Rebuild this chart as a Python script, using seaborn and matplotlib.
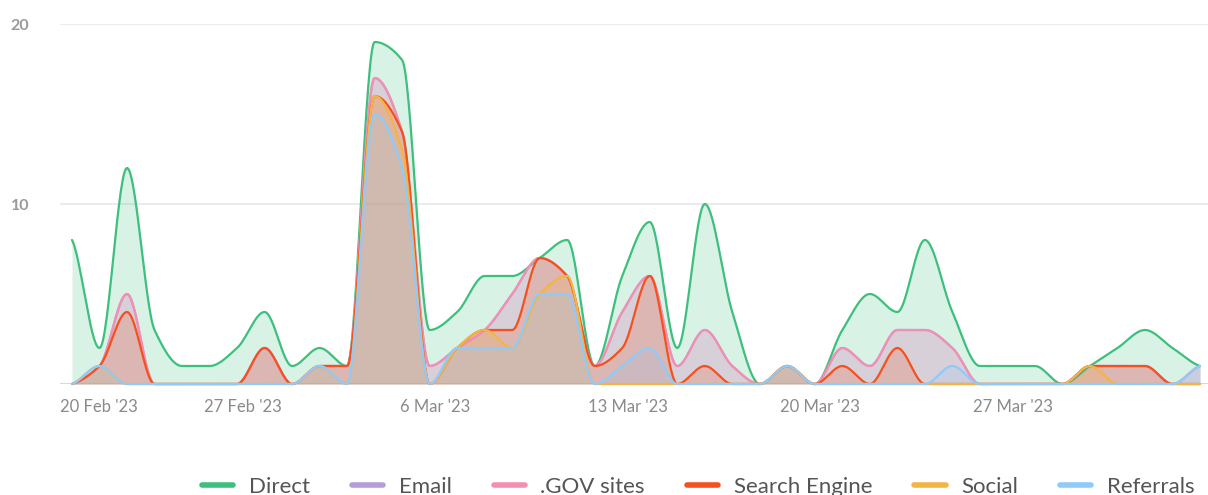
import numpy as np
import pandas as pd
import matplotlib
matplotlib.use('Agg')
import matplotlib.pyplot as plt
from matplotlib.lines import Line2D
import seaborn as sns

# Valores diários (índice 0 = primeiro dia do gráfico)
direct = [8, 2, 12, 3, 1, 1, 2, 4, 1, 2, 1, 19, 18, 3, 4, 6, 6, 7, 8, 1, 6,
          9, 2, 10, 4, 0, 1, 0, 3, 5, 4, 8, 4, 1, 1, 1, 0, 1, 2, 3, 2, 1]
email = [0, 1, 5, 0, 0, 0, 0, 2, 0, 1, 1, 17, 14, 1, 2, 3, 5, 7, 6, 1, 4,
         6, 1, 3, 1, 0, 1, 0, 2, 1, 3, 3, 2, 0, 0, 0, 0, 1, 1, 1, 0, 1]
gov_sites = [0, 1, 5, 0, 0, 0, 0, 2, 0, 1, 1, 17, 14, 1, 2, 3, 5, 7, 6, 1, 4,
             6, 1, 3, 1, 0, 1, 0, 2, 1, 3, 3, 2, 0, 0, 0, 0, 1, 1, 1, 0, 1]
search_engine = [0, 1, 4, 0, 0, 0, 0, 2, 0, 1, 1, 16, 14, 0, 2, 3, 3, 7, 6, 1, 2,
                 6, 0, 1, 0, 0, 1, 0, 1, 0, 2, 0, 0, 0, 0, 0, 0, 1, 1, 1, 0, 0]
social = [0, 1, 0, 0, 0, 0, 0, 0, 0, 1, 0, 16, 13, 0, 2, 3, 2, 5, 6, 0, 0,
          0, 0, 0, 0, 0, 1, 0, 0, 0, 0, 0, 0, 0, 0, 0, 0, 1, 0, 0, 0, 0]
referrals = [0, 1, 0, 0, 0, 0, 0, 0, 0, 1, 0, 15, 12, 0, 2, 2, 2, 5, 5, 0, 1,
             2, 0, 0, 0, 0, 1, 0, 0, 0, 0, 0, 1, 0, 0, 0, 0, 0, 0, 0, 0, 1]

series_names = ['Direct', 'Email', '.GOV sites', 'Search Engine', 'Social', 'Referrals']
series_values = [direct, email, gov_sites, search_engine, social, referrals]
series_colors = ['#3dbf7d', '#b39ddb', '#f48fb1', '#f4511e', '#f2b544', '#90caf9']

tick_labels = ["20 Feb '23", "27 Feb '23", "6 Mar '23", "13 Mar '23", "20 Mar '23", "27 Mar '23"]


# Interpolação monotônica (pchip) só para suavizar o desenho das curvas
def smooth_curve(y, n=30):
    y = np.asarray(y, dtype=float)
    delta = np.diff(y)
    d = np.zeros(len(y))
    for k in range(1, len(y) - 1):
        if delta[k - 1] * delta[k] > 0:
            d[k] = 2.0 / (1.0 / delta[k - 1] + 1.0 / delta[k])
    d[0] = delta[0] * 0.5
    d[-1] = delta[-1] * 0.5
    xs = np.linspace(0, len(y) - 1, (len(y) - 1) * n + 1)
    idx = np.minimum(xs.astype(int), len(y) - 2)
    t = xs - idx
    h00 = 2 * t**3 - 3 * t**2 + 1
    h10 = t**3 - 2 * t**2 + t
    h01 = -2 * t**3 + 3 * t**2
    h11 = t**3 - t**2
    ys = h00 * y[idx] + h10 * d[idx] + h01 * y[idx + 1] + h11 * d[idx + 1]
    return xs, np.clip(ys, 0, None)


sns.set_theme(style='white')
plt.rcParams['font.family'] = ['Lato', 'DejaVu Sans']

W, H = 1208, 495
fig = plt.figure(figsize=(W / 100, H / 100), dpi=100)
ax = fig.add_axes([60 / W, 111 / H, 1148 / W, 360 / H])

for name, vals, col in zip(series_names, series_values, series_colors):
    xs, ys = smooth_curve(vals)
    df = pd.DataFrame({'x': xs, 'y': ys})
    ax.fill_between(xs, 0, ys, color=col, alpha=0.2, lw=0)
    sns.lineplot(data=df, x='x', y='y', color=col, lw=1.6, ax=ax,
                 estimator=None, sort=False)
    ax.lines[-1].set_clip_on(False)

ax.set_xlim(-0.436, 41.29)
ax.set_ylim(0, 20)
ax.set_xlabel('')
ax.set_ylabel('')

ax.set_yticks([10, 20])
ax.set_yticklabels(['10', '20'])
ax.yaxis.grid(True, color='#ebebeb', lw=1.5)
ax.xaxis.grid(False)
ax.set_axisbelow(True)
for s in ax.spines.values():
    s.set_visible(False)
ax.axhline(0, color='#c9d6e3', lw=2, zorder=0.5)

tick_pos = [-0.43] + [7 * k - 0.8 for k in range(1, len(tick_labels))]
ax.set_xticks(tick_pos)
ax.set_xticklabels(tick_labels)
ax.tick_params(axis='x', length=0, pad=11, labelsize=12, labelcolor='#8a8a8a')
ax.tick_params(axis='y', length=0, pad=22, labelsize=11.5, labelcolor='#9a9a9a')
for lab in ax.get_yticklabels():
    lab.set_fontweight('bold')
first = ax.get_xticklabels()[0]
first.set_horizontalalignment('left')

handles = [Line2D([], [], color=c, lw=4) for c in series_colors]
fig.legend(handles, series_names, loc='center', bbox_to_anchor=(0.578, 0.016),
           ncol=6, frameon=False, fontsize=16, handlelength=1.4,
           columnspacing=1.9, handletextpad=0.7, labelcolor='#555555')

fig.savefig('out.png', dpi=100)
